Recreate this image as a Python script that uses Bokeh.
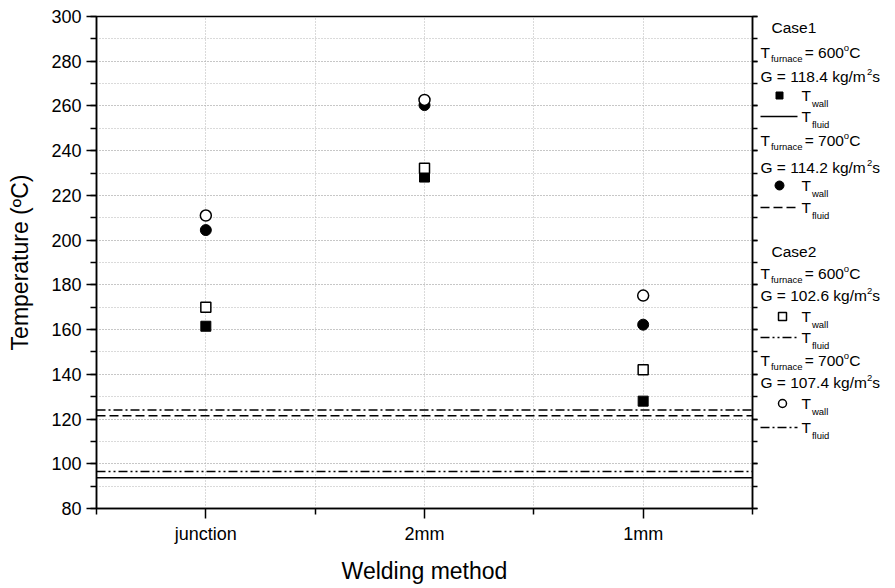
from bokeh.plotting import figure
from bokeh.models import Range1d, LinearAxis, FixedTicker, SingleIntervalTicker, Span
from bokeh.layouts import row
from bokeh.embed import file_html
from bokeh.resources import INLINE
from bokeh.core.properties import value

# ---------------- data ----------------
categories = ["junction", "2mm", "1mm"]
case1_600_wall = [161.5, 228.2, 128.0]
case1_700_wall = [204.5, 260.4, 162.2]
case2_600_wall = [170.0, 232.1, 142.0]
case2_700_wall = [211.0, 262.7, 175.2]
case1_600_fluid = 93.7
case1_700_fluid = 121.5
case2_600_fluid = 96.6
case2_700_fluid = 124.0
y_min, y_max, y_step = 80, 300, 20

FONT_NAME = "Liberation Sans"
FONT = value(FONT_NAME)
x_pos = [i + 1 for i in range(len(categories))]

RB = 6
TOP, FH = 16, 492
p = figure(frame_width=656, frame_height=FH,
           x_range=Range1d(0.5, len(categories) + 0.5), y_range=Range1d(y_min, y_max),
           output_backend="svg", toolbar_location=None,
           min_border_left=96, min_border_top=TOP, min_border_right=RB, min_border_bottom=80,
           x_axis_label="Welding method", y_axis_label="Temperature (\u00baC)")
p.outline_line_color = "black"
p.outline_line_width = 1.5

xt = FixedTicker(ticks=x_pos, minor_ticks=[x - 0.5 for x in x_pos] + [x_pos[-1] + 0.5])
yt = SingleIntervalTicker(interval=y_step, num_minor_ticks=2)

xa = p.xaxis[0]
xa.ticker = xt
xa.major_label_overrides = {x: c for x, c in zip(x_pos, categories)}
ya = p.yaxis[0]
ya.ticker = yt
for ax in (xa, ya):
    ax.axis_line_width = 1.5
    ax.axis_line_color = "black"
    ax.major_tick_line_width = 1.5
    ax.minor_tick_line_width = 1.5
    ax.major_tick_line_color = "black"
    ax.minor_tick_line_color = "black"
    ax.major_tick_in = 0
    ax.minor_tick_in = 0
    ax.major_tick_out = 10
    ax.minor_tick_out = 6
    ax.major_label_text_font = FONT_NAME
    ax.major_label_text_font_size = "18px"
    ax.major_label_text_color = "black"
    ax.major_label_standoff = 5
    ax.axis_label_text_font = FONT_NAME
    ax.axis_label_text_font_size = "23px"
    ax.axis_label_text_font_style = "normal"
    ax.axis_label_text_color = "black"
ya.axis_label_standoff = 15
xa.axis_label_standoff = 11

ra = LinearAxis(ticker=yt, major_label_standoff=0,
                major_tick_in=0, minor_tick_in=0, major_tick_out=5, minor_tick_out=5,
                axis_line_width=1.5, major_tick_line_width=1.5, minor_tick_line_width=1.5)
ra.major_label_overrides = {v: "" for v in range(y_min, y_max + 1, y_step)}
p.add_layout(ra, "right")

for g, tk in ((p.xgrid[0], xt), (p.ygrid[0], yt)):
    g.ticker = tk
    g.grid_line_color = "#b4b4b4"
    g.grid_line_dash = "1 2"
    g.grid_line_width = 1
    g.minor_grid_line_color = "#b4b4b4"
    g.minor_grid_line_dash = "1 2"
    g.minor_grid_line_width = 1

DASH_SOLID = "solid"
DASH_DASH = "9 4"
DASH_DDOT = "9 3 2 3 2 3"
DASH_DOT = "9 3 2 3"

for loc, dash in ((case1_600_fluid, DASH_SOLID), (case1_700_fluid, DASH_DASH),
                  (case2_600_fluid, DASH_DDOT), (case2_700_fluid, DASH_DOT)):
    p.add_layout(Span(location=loc, dimension="width", line_color="black",
                      line_width=1.5, line_dash=dash))

p.scatter(x_pos, case1_600_wall, marker="square", size=10, fill_color="black", line_color="black")
p.scatter(x_pos, case2_600_wall, marker="square", size=10, fill_color="white", line_color="black", line_width=1.5)
p.scatter(x_pos, case1_700_wall, marker="circle", size=11, fill_color="black", line_color="black")
p.scatter(x_pos, case2_700_wall, marker="circle", size=11, fill_color="white", line_color="black", line_width=1.5)

# ---------------- legend panel ----------------
W = {'T': .611, '=': .584, ' ': .278, '.': .278, 'C': .722, 'G': .778, 'k': .5, 'g': .556,
     '/': .278, 'm': .833, 's': .5, 'o': .556, 'f': .278, 'u': .556, 'r': .333, 'n': .556,
     'a': .556, 'c': .5, 'e': .556, 'w': .722, 'l': .222, 'i': .222, 'd': .556, '1': .556,
     '\u00ba': .365}


def tw(s, fs):
    return sum(W.get(ch, .556) for ch in s) * fs


BIG, SMALL = 15.5, 9.5
big_x, big_y, big_t = [], [], []
sm_x, sm_y, sm_t = [], [], []
B = (big_x, big_y, big_t)
S = (sm_x, sm_y, sm_t)


def put(lst, x, y, t):
    lst[0].append(x); lst[1].append(y); lst[2].append(t)


def furnace_row(y, temp):
    x = 760
    put(B, x, y, "T"); x += tw("T", BIG) + 1
    put(S, x, y + 6, "furnace"); x += tw("furnace", SMALL) + 2
    s = "= " + temp
    put(B, x, y, s); x += tw(s, BIG)
    put(S, x, y - 5, "o"); x += tw("o", SMALL)
    put(B, x, y, "C")


def g_row(y, g):
    x = 760
    s = "G = " + g + " kg/m"
    put(B, x, y, s); x += tw(s, BIG)
    put(S, x, y - 5, "2"); x += tw("2", SMALL)
    put(B, x, y, "s")


def t_row(y, sub):
    x = 801
    put(B, x, y, "T"); x += tw("T", BIG) + 1
    put(S, x, y + 8, sub)


LX0 = 96 + 656 + RB
LW = 128
# legend panel frame is aligned with the main frame by the row layout
lg = figure(width=LW, height=588, x_range=Range1d(LX0, LX0 + LW), y_range=Range1d(TOP + FH, TOP),
            output_backend="svg", toolbar_location=None, min_border=0,
            x_axis_type=None, y_axis_type=None)
lg.outline_line_color = None
lg.grid.visible = False

legend_blocks = [
    ("Case1", 27, [("600", 52, "118.4", 76, "square", "black", 7, 779, 95, DASH_SOLID, 116),
                   ("700", 140, "114.2", 167, "circle", "black", 9, 779, 185, DASH_DASH, 207)]),
    ("Case2", 251, [("600", 273, "102.6", 295, "square", "white", 8, 782, 316, DASH_DDOT, 337),
                    ("700", 360, "107.4", 382, "circle", "white", 8, 782, 403, DASH_DOT, 427)]),
]
for head, hy, entries in legend_blocks:
    put(B, 771, hy, head)
    for temp, ty, gval, gy, mk, fill, msz, mx, my, dash, ly in entries:
        furnace_row(ty, temp)
        g_row(gy, gval)
        lg.scatter([mx], [my], marker=mk, size=msz, fill_color=fill, line_color="black",
                   line_width=1.5 if fill == "white" else 1)
        t_row(my, "wall")
        lg.line([760, 797], [ly, ly], line_color="black", line_width=1.5, line_dash=dash)
        t_row(ly, "fluid")

lg.text(big_x, big_y, text=big_t, text_font=FONT, text_font_size="15.5px",
        text_baseline="middle", text_align="left", text_color="black")
lg.text(sm_x, sm_y, text=sm_t, text_font=FONT, text_font_size="9.5px",
        text_baseline="middle", text_align="left", text_color="black")

layout = row(p, lg)
open("out.html", "w").write(file_html(layout, INLINE))
